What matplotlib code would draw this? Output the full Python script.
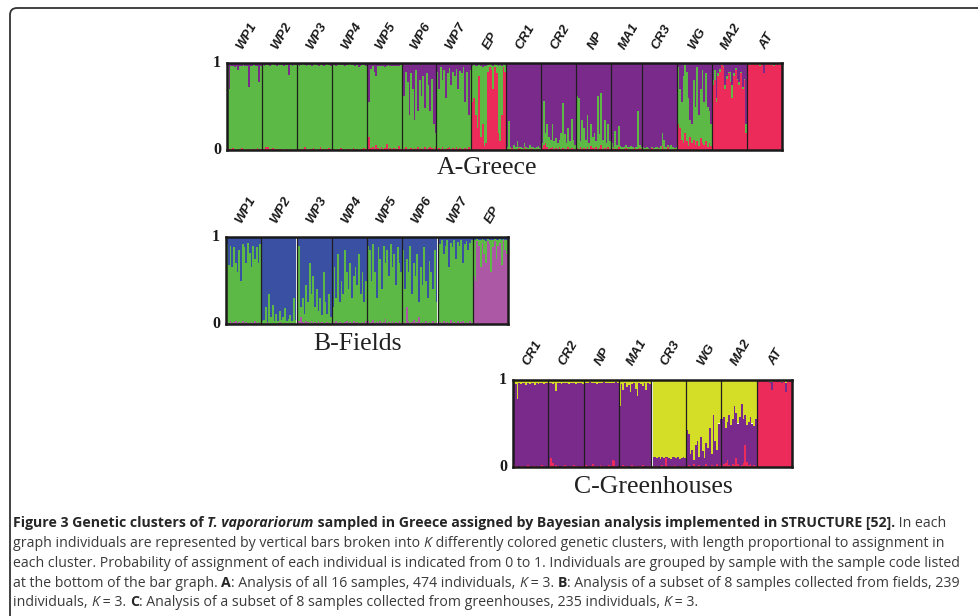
import matplotlib
matplotlib.use("Agg")
import matplotlib.pyplot as plt
import matplotlib.transforms as mtransforms
from matplotlib.patches import FancyBboxPatch
import numpy as np

W, H = 979, 616

GREEN = "#5cb946"
PURPLE = "#7a2a8a"
RED = "#ec2b5b"
BLUE = "#3a50a2"
PINK = "#ad58a5"
YELLOW = "#d4de26"

# ---- A: all samples (red bottom / green middle / purple top), values in %
A_GROUPS = ["WP1", "WP2", "WP3", "WP4", "WP5", "WP6", "WP7", "EP",
            "CR1", "CR2", "NP", "MA1", "CR3", "WG", "MA2", "AT"]
A_LO = [
    [2, 1, 1, 2, 0, 1, 0, 1, 2, 1, 0, 1, 1, 0, 1, 1, 0, 2, 1, 1],
    [1, 1, 4, 3, 1, 1, 2, 1, 1, 0, 1, 1, 0, 1, 1, 0, 1, 1, 0, 1],
    [1, 0, 1, 1, 3, 1, 0, 1, 1, 2, 1, 0, 1, 3, 1, 1, 0, 1, 2, 1],
    [1, 1, 0, 1, 1, 2, 1, 0, 1, 1, 1, 0, 2, 1, 1, 0, 1, 1, 2, 1],
    [3, 15, 2, 4, 1, 6, 2, 1, 3, 1, 2, 7, 1, 2, 1, 2, 1, 1, 5, 1],
    [2, 1, 3, 1, 1, 2, 1, 2, 1, 4, 1, 2, 1, 3, 1, 2, 4, 2, 1, 3],
    [1, 2, 1, 3, 1, 1, 2, 4, 1, 2, 1, 3, 1, 2, 1, 1, 2, 1, 3, 1],
    [55, 60, 40, 25, 85, 15, 30, 5, 8, 90, 95, 92, 70, 95, 88, 20, 10, 40, 95, 90],
    [1, 0, 1, 2, 1, 0, 1, 2, 1, 0, 3, 1, 1, 0, 2, 1, 0, 1, 1, 0],
    [2, 6, 8, 3, 1, 2, 4, 1, 2, 1, 3, 1, 2, 1, 1, 3, 1, 2, 1, 1],
    [2, 1, 4, 1, 2, 1, 3, 1, 5, 2, 1, 3, 1, 2, 6, 1, 2, 1, 3, 1],
    [1, 2, 1, 1, 3, 1, 0, 1, 2, 1, 1, 0, 1, 2, 1, 1, 2, 1],
    [1, 0, 1, 1, 0, 2, 1, 0, 1, 1, 0, 5, 1, 0, 4, 1, 0, 1, 1, 0],
    [30, 25, 12, 8, 20, 10, 5, 15, 8, 12, 6, 10, 5, 14, 8, 6, 10, 4, 8, 5],
    [75, 80, 55, 85, 90, 98, 95, 70, 82, 88, 78, 60, 85, 92, 80, 75, 88, 70, 80, 20],
    [99, 98, 99, 99, 98, 99, 99, 97, 99, 88, 98, 99, 99, 98, 99, 97, 99, 99, 98, 99],
]
A_HI = [
    [97, 70, 96, 97, 95, 97, 92, 97, 96, 98, 97, 97, 72, 97, 96, 98, 97, 96, 78, 97],
    [98, 97, 98, 98, 97, 98, 99, 98, 97, 98, 98, 98, 97, 98, 98, 86, 98, 97, 98, 98],
    [98, 97, 98, 99, 98, 97, 98, 98, 97, 98, 99, 98, 97, 98, 98, 97, 98, 99, 98, 97],
    [98, 98, 97, 98, 99, 98, 98, 97, 98, 98, 99, 98, 98, 97, 98, 95, 97, 98, 98, 97],
    [96, 55, 93, 97, 90, 85, 96, 97, 96, 97, 95, 97, 98, 97, 96, 97, 97, 96, 97, 98],
    [85, 62, 90, 78, 40, 88, 70, 34, 92, 45, 80, 62, 85, 48, 88, 75, 45, 82, 30, 20],
    [90, 70, 95, 80, 92, 60, 88, 94, 75, 90, 85, 93, 70, 91, 88, 95, 55, 90, 40, 92],
    [97, 98, 97, 96, 98, 97, 95, 97, 96, 98, 99, 98, 97, 99, 98, 97, 98, 96, 99, 98],
    [3, 33, 4, 2, 6, 3, 10, 4, 3, 2, 8, 3, 2, 6, 3, 4, 2, 3, 5, 2],
    [8, 56, 20, 30, 15, 12, 30, 10, 14, 8, 12, 20, 54, 18, 8, 25, 10, 36, 12, 6],
    [62, 60, 10, 35, 25, 12, 40, 8, 30, 15, 20, 10, 62, 18, 65, 12, 35, 8, 30, 10],
    [8, 4, 22, 6, 28, 5, 3, 4, 6, 3, 4, 5, 3, 2, 4, 45, 6, 4],
    [3, 2, 4, 2, 1, 3, 2, 4, 3, 2, 5, 20, 12, 3, 6, 4, 6, 3, 2, 3],
    [95, 70, 55, 85, 98, 90, 60, 35, 30, 80, 50, 95, 40, 70, 92, 55, 88, 50, 45, 30],
    [80, 92, 60, 88, 93, 99, 97, 75, 85, 90, 90, 75, 88, 94, 82, 78, 90, 72, 82, 30],
    [100, 99, 100, 100, 99, 100, 100, 99, 100, 89, 99, 100, 99, 100, 99, 98, 100, 99, 100, 99],
]

# ---- B: fields (pink bottom / green middle / blue top)
B_GROUPS = ["WP1", "WP2", "WP3", "WP4", "WP5", "WP6", "WP7", "EP"]
B_LO = [
    [2, 1, 3, 1, 2, 4, 1, 2, 1, 3, 1, 2, 1, 1, 2, 1, 3, 1, 2, 1],
    [1, 0, 1, 2, 1, 0, 1, 1, 0, 1, 2, 1, 0, 1, 1, 0, 1, 1, 0, 1],
    [12, 3, 8, 2, 1, 4, 2, 1, 3, 1, 2, 1, 3, 1, 2, 1, 1, 2, 1, 1],
    [2, 1, 3, 1, 2, 1, 1, 2, 4, 1, 2, 1, 3, 1, 2, 1, 1, 2, 1, 3],
    [3, 1, 2, 5, 1, 2, 1, 3, 1, 2, 6, 1, 2, 1, 3, 1, 2, 1, 4, 1],
    [2, 1, 20, 3, 1, 2, 5, 1, 2, 8, 1, 2, 1, 3, 1, 2, 1, 4, 1, 2],
    [1, 2, 1, 3, 1, 2, 1, 5, 1, 2, 1, 3, 1, 2, 4, 1, 2, 1, 3, 1],
    [55, 50, 95, 90, 65, 93, 80, 70, 95, 92, 60, 88, 95, 75, 90, 93, 68, 96, 85, 80],
]
B_HI = [
    [92, 68, 90, 65, 88, 70, 60, 85, 50, 92, 88, 70, 93, 82, 65, 90, 75, 88, 70, 92],
    [3, 5, 20, 2, 35, 8, 22, 4, 12, 3, 15, 5, 8, 18, 4, 6, 10, 3, 30, 5],
    [15, 90, 20, 30, 12, 45, 25, 70, 35, 55, 20, 40, 15, 30, 10, 60, 25, 12, 35, 8],
    [20, 65, 30, 80, 25, 50, 35, 85, 60, 40, 70, 30, 55, 65, 45, 80, 35, 60, 25, 50],
    [90, 85, 50, 92, 60, 30, 88, 75, 40, 90, 70, 85, 55, 92, 65, 80, 45, 88, 70, 60],
    [85, 40, 75, 60, 90, 35, 70, 55, 80, 25, 65, 45, 88, 50, 30, 72, 60, 40, 85, 25],
    [95, 92, 97, 80, 90, 96, 65, 93, 88, 97, 75, 94, 90, 96, 70, 92, 95, 85, 93, 96],
    [97, 96, 98, 97, 96, 98, 97, 95, 98, 97, 96, 97, 98, 96, 97, 98, 96, 98, 97, 96],
]

# ---- C: greenhouses (red bottom / purple middle / yellow top)
C_GROUPS = ["CR1", "CR2", "NP", "MA1", "CR3", "WG", "MA2", "AT"]
C_LO = [
    [3, 1, 1, 0, 1, 1, 0, 1, 2, 1, 0, 1, 1, 1, 0, 1, 2, 1, 0, 1],
    [1, 10, 5, 1, 2, 1, 0, 1, 1, 2, 1, 0, 1, 1, 2, 1, 1, 0, 1, 1],
    [1, 2, 1, 0, 1, 3, 1, 1, 0, 2, 1, 1, 0, 1, 2, 1, 8, 7, 1, 0],
    [1, 0, 2, 1, 1, 0, 1, 2, 1, 1, 0, 1, 1, 2, 1, 0, 1, 1],
    [1, 0, 1, 1, 0, 1, 2, 1, 10, 1, 0, 1, 1, 2, 1, 0, 1, 1, 0, 1],
    [1, 2, 1, 0, 3, 1, 1, 2, 0, 1, 1, 4, 1, 0, 2, 1, 1, 3, 1, 2],
    [1, 3, 5, 8, 2, 1, 4, 2, 10, 3, 1, 2, 5, 25, 6, 2, 3, 1, 2, 1],
    [99, 98, 99, 99, 98, 99, 99, 97, 88, 99, 99, 98, 99, 99, 97, 99, 86, 99, 98, 99],
]
C_HI = [
    [96, 95, 78, 96, 95, 97, 96, 94, 96, 95, 97, 96, 94, 96, 95, 97, 96, 95, 96, 97],
    [97, 96, 95, 97, 87, 96, 97, 95, 96, 97, 96, 95, 97, 96, 97, 95, 96, 97, 96, 95],
    [97, 96, 97, 98, 96, 97, 97, 95, 97, 96, 97, 98, 96, 97, 96, 97, 96, 97, 98, 97],
    [70, 95, 88, 96, 92, 94, 86, 95, 97, 90, 82, 96, 95, 93, 97, 88, 96, 95],
    [10, 12, 11, 10, 12, 9, 11, 10, 12, 11, 10, 9, 11, 12, 10, 11, 9, 10, 11, 10],
    [42, 38, 15, 20, 8, 25, 30, 12, 35, 18, 10, 28, 22, 45, 15, 60, 30, 20, 50, 55],
    [55, 57, 45, 52, 60, 48, 55, 70, 62, 50, 58, 72, 55, 60, 48, 52, 58, 50, 47, 55],
    [99, 99, 99, 100, 99, 99, 100, 98, 98, 99, 100, 99, 99, 99, 98, 100, 97, 99, 99, 100],
]

CAPTION = [
    [("Figure 3 Genetic clusters of ", "b"), ("T. vaporariorum", "bi"),
     (" sampled in Greece assigned by Bayesian analysis implemented in STRUCTURE [52].", "b"),
     (" In each", "r")],
    [("graph individuals are represented by vertical bars broken into ", "r"), ("K", "i"),
     (" differently colored genetic clusters, with length proportional to assignment in", "r")],
    [("each cluster. Probability of assignment of each individual is indicated from 0 to 1. "
      "Individuals are grouped by sample with the sample code listed", "r")],
    [("at the bottom of the bar graph. ", "r"), ("A", "b"),
     (": Analysis of all 16 samples, 474 individuals, ", "r"), ("K", "i"), (" = 3. ", "r"),
     ("B", "b"), (": Analysis of a subset of 8 samples collected from fields, 239", "r")],
    [("individuals, ", "r"), ("K", "i"), (" = 3. ", "r"), ("C", "b"),
     (": Analysis of a subset of 8 samples collected from greenhouses, 235 individuals, ", "r"),
     ("K", "i"), (" = 3.", "r")],
]

fig = plt.figure(figsize=(W / 100, H / 100), dpi=100)

# full-figure layer in pixel units for the frame and caption
bg = fig.add_axes([0, 0, 1, 1])
bg.set_xlim(0, W)
bg.set_ylim(H, 0)
bg.axis("off")
bg.add_patch(FancyBboxPatch((10, 8), W + 20, H + 20,
                            boxstyle="round,pad=0,rounding_size=7",
                            fill=False, ec="#333333", lw=1.3, clip_on=False))


def px_rect(x0, y0, x1, y1):
    return [x0 / W, 1 - y1 / H, (x1 - x0) / W, (y1 - y0) / H]


def structure_panel(rect, groups, lo, hi, colors, title, title_x, title_y):
    ax = fig.add_axes(px_rect(*rect))
    lo_all = np.concatenate([np.array(v, float) for v in lo])
    hi_all = np.concatenate([np.array(v, float) for v in hi])
    n = len(lo_all)
    x = np.arange(n) + 0.5
    kw = dict(width=1.0, linewidth=0, antialiased=False)
    ax.bar(x, lo_all, color=colors[0], **kw)
    ax.bar(x, hi_all - lo_all, bottom=lo_all, color=colors[1], **kw)
    ax.bar(x, 100 - hi_all, bottom=hi_all, color=colors[2], **kw)

    edges = np.cumsum([len(v) for v in lo])
    for e in edges[:-1]:
        ax.axvline(e, color="#1e1e1e", lw=0.9)
    ax.set_xlim(0, n)
    ax.set_ylim(0, 100)
    ax.set_xticks([])
    ax.set_yticks([])
    for s in ax.spines.values():
        s.set_linewidth(1.8)
        s.set_color("#1a1a1a")

    lab = mtransforms.offset_copy(ax.transAxes, fig=fig, x=-6, y=0, units="dots")
    for yv, t in [(1, "1"), (0, "0")]:
        ax.text(0, yv, t, transform=lab, ha="right", va="center",
                family="Liberation Serif", fontweight="bold", fontsize=11.5, color="#1a1a1a")

    starts = np.concatenate([[0], edges[:-1]])
    centers = (starts + edges) / 2
    gtr = mtransforms.offset_copy(ax.get_xaxis_transform(), fig=fig, x=2, y=12, units="dots")
    for c, g in zip(centers, groups):
        ax.text(c, 1, g, transform=gtr, rotation=60, ha="center", va="bottom",
                family="Liberation Sans", style="italic", fontweight="bold",
                fontsize=9.5, color="#1a1a1a")

    bg.text(title_x, title_y, title, ha="center", va="center",
            family="Liberation Serif", fontsize=18.5, color="#222222")
    return ax


structure_panel((227, 63, 782, 150), A_GROUPS, A_LO, A_HI, (RED, GREEN, PURPLE),
                "A-Greece", 487, 168)
structure_panel((226, 237, 508, 324), B_GROUPS, B_LO, B_HI, (PINK, GREEN, BLUE),
                "B-Fields", 358, 344)
structure_panel((513, 380, 792, 467), C_GROUPS, C_LO, C_HI, (RED, PURPLE, YELLOW),
                "C-Greenhouses", 653, 487)

# caption, drawn run by run so bold / italic pieces sit inline
renderer = fig.canvas.get_renderer()
styles = {"r": ("normal", "normal"), "b": ("normal", "bold"),
          "i": ("italic", "normal"), "bi": ("italic", "bold")}
baselines = [527, 547, 567, 587, 606]
for line, yb in zip(CAPTION, baselines):
    xc = 13
    for txt, st in line:
        fs, fw = styles[st]
        t = bg.text(xc, yb, txt, ha="left", va="baseline", family="Open Sans",
                    style=fs, fontweight=fw, fontsize=10.15,
                    color="#262626" if "b" in st else "#3a3a3a")
        bb = t.get_window_extent(renderer)
        xc += bb.width

fig.savefig("out.png", dpi=100)
